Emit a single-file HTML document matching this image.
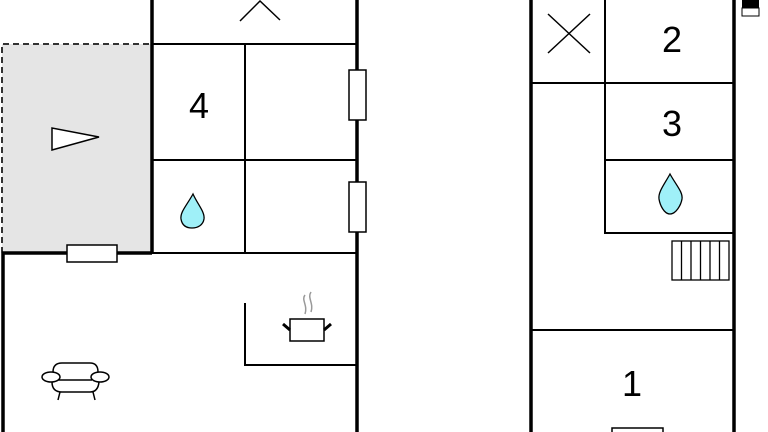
<!DOCTYPE html>
<html><head><style>html,body{margin:0;padding:0;background:#fff;width:768px;height:432px;overflow:hidden}</style></head>
<body>
<svg width="768" height="432" viewBox="0 0 768 432" xmlns="http://www.w3.org/2000/svg" font-family="Liberation Sans, sans-serif">
<rect x="2" y="44" width="150" height="209" fill="#e5e5e5"/>
<path d="M2 253 V44 H152" fill="none" stroke="#333" stroke-width="2" stroke-dasharray="6,4"/>
<g stroke="#000" fill="none">
<path d="M152 0 V253 M3 253 V432 M357 0 V432 M2 253 H152" stroke-width="3.5"/>
<path d="M152 44 H357 M245 44 V253 M152 160 H357 M152 253 H357 M245 303 V365 H357" stroke-width="2"/>
<path d="M240 21 L260 1 L280 20" stroke-width="1.5"/>
<path d="M52 128 V150 L99 137 Z" fill="#fff" stroke-width="1.5"/>
<path d="M193 194 C187 205 180 212 181 219 C182 225 186 228 192 228 C198 228 203 225 204 219 C205 212 198 205 193 194 Z" fill="#9ff0f8" stroke-width="1.3"/>
<path d="M670 174 C664 185 658 192 659 199 C660 205 664 214 670 214 C676 214 681 205 682 199 C683 192 676 185 670 174 Z" fill="#9ff0f8" stroke-width="1.3"/>
</g>
<rect x="349" y="70" width="17" height="50" fill="#fff" stroke="#000" stroke-width="1.5"/>
<rect x="349" y="182" width="17" height="50" fill="#fff" stroke="#000" stroke-width="1.5"/>
<rect x="67" y="245" width="50" height="17" fill="#fff" stroke="#000" stroke-width="1.5"/>
<g stroke="#000" fill="none" stroke-width="1.5">
<rect x="290" y="319" width="34" height="22" fill="#fff"/>
<path d="M283 324 L290 330 M331 324 L324 330" stroke-width="3"/>
<path d="M305 295 C301 300 308 305 305 314 M311 292 C307 298 314 303 311 312" stroke="#999"/>
<ellipse cx="51" cy="377" rx="9" ry="5" fill="#fff"/>
<ellipse cx="100" cy="377" rx="9" ry="5" fill="#fff"/>
<path d="M53 372 Q53 363 62 363 H90 Q98 363 98 372 M58 380 H92 M52 382 Q52 392 62 392 H90 Q98 392 99 382 M60 392 L58 400 M93 392 L95 400"/>
</g>
<text x="199" y="118" font-size="36" text-anchor="middle">4</text>
<g stroke="#000" fill="none">
<path d="M531 0 V432 M734 0 V432" stroke-width="3.5"/>
<path d="M605 0 V83 M531 83 H734 M605 83 V233 H734 M605 160 H734 M531 330 H734" stroke-width="2"/>
<path d="M548 14 L590 53 M590 14 L548 53" stroke-width="1.5"/>
<rect x="672" y="241" width="57" height="39" stroke-width="1.3"/>
<path d="M681.5 241 V280 M691 241 V280 M700.5 241 V280 M710 241 V280 M719.5 241 V280" stroke-width="1.3"/>
</g>
<rect x="612" y="428" width="51" height="6" fill="#fff" stroke="#000" stroke-width="1.5"/>
<rect x="742" y="0" width="17" height="8" fill="#000"/>
<rect x="742" y="8" width="17" height="8" fill="#fff" stroke="#000" stroke-width="1"/>
<text x="672" y="52" font-size="36" text-anchor="middle">2</text>
<text x="672" y="136" font-size="36" text-anchor="middle">3</text>
<text x="632" y="396" font-size="36" text-anchor="middle">1</text>
</svg>
</body></html>
